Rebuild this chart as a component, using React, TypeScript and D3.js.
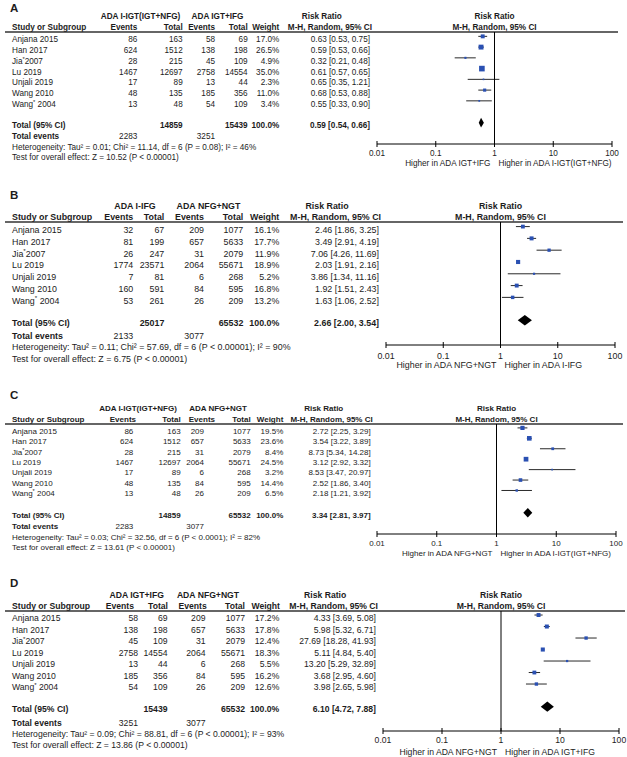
import React from "react";
import { scaleLog } from "d3";

const studyNames = ["Anjana 2015", "Han 2017", "Jia*2007", "Lu 2019", "Unjali 2019", "Wang 2010", "Wang* 2004"];
const tickValues = [0.01, 0.1, 1, 10, 100];
const tickLabels = ["0.01", "0.1", "1", "10", "100"];

// panel A
const groupsA = ["ADA I-IGT(IGT+NFG)", "ADA IGT+IFG"];
const eventsA1 = [86, 624, 28, 1467, 17, 48, 13];
const totalA1 = [163, 1512, 215, 12697, 89, 135, 48];
const eventsA2 = [58, 138, 45, 2758, 13, 185, 54];
const totalA2 = [69, 198, 109, 14554, 44, 356, 109];
const weightA = [17.0, 26.5, 4.9, 35.0, 2.3, 11.0, 3.4];
const rrA = [0.63, 0.59, 0.32, 0.61, 0.65, 0.68, 0.55];
const loA = [0.53, 0.53, 0.21, 0.57, 0.35, 0.53, 0.33];
const hiA = [0.75, 0.66, 0.48, 0.65, 1.21, 0.88, 0.9];
const pooledA = [0.59, 0.54, 0.66];
const sumsA = [14859, 15439, 2283, 3251];
const hetA = "Heterogeneity: Tau² = 0.01; Chi² = 11.14, df = 6 (P = 0.08); I² = 46%";
const testA = "Test for overall effect: Z = 10.52 (P < 0.00001)";
const favourA = ["Higher in ADA IGT+IFG", "Higher in ADA I-IGT(IGT+NFG)"];

// panel B
const groupsB = ["ADA I-IFG", "ADA NFG+NGT"];
const eventsB1 = [32, 81, 26, 1774, 7, 160, 53];
const totalB1 = [67, 199, 247, 23571, 81, 591, 261];
const eventsB2 = [209, 657, 31, 2064, 6, 84, 26];
const totalB2 = [1077, 5633, 2079, 55671, 268, 595, 209];
const weightB = [16.1, 17.7, 11.9, 18.9, 5.2, 16.8, 13.2];
const rrB = [2.46, 3.49, 7.06, 2.03, 3.86, 1.92, 1.63];
const loB = [1.86, 2.91, 4.26, 1.91, 1.34, 1.51, 1.06];
const hiB = [3.25, 4.19, 11.69, 2.16, 11.16, 2.43, 2.52];
const pooledB = [2.66, 2.0, 3.54];
const sumsB = [25017, 65532, 2133, 3077];
const hetB = "Heterogeneity: Tau² = 0.11; Chi² = 57.69, df = 6 (P < 0.00001); I² = 90%";
const testB = "Test for overall effect: Z = 6.75 (P < 0.00001)";
const favourB = ["Higher in ADA NFG+NGT", "Higher in ADA I-IFG"];

// panel C
const groupsC = ["ADA I-IGT(IGT+NFG)", "ADA NFG+NGT"];
const eventsC1 = [86, 624, 28, 1467, 17, 48, 13];
const totalC1 = [163, 1512, 215, 12697, 89, 135, 48];
const eventsC2 = [209, 657, 31, 2064, 6, 84, 26];
const totalC2 = [1077, 5633, 2079, 55671, 268, 595, 209];
const weightC = [19.5, 23.6, 8.4, 24.5, 3.2, 14.4, 6.5];
const rrC = [2.72, 3.54, 8.73, 3.12, 8.53, 2.52, 2.18];
const loC = [2.25, 3.22, 5.34, 2.92, 3.47, 1.86, 1.21];
const hiC = [3.29, 3.89, 14.28, 3.32, 20.97, 3.4, 3.92];
const pooledC = [3.34, 2.81, 3.97];
const sumsC = [14859, 65532, 2283, 3077];
const hetC = "Heterogeneity: Tau² = 0.03; Chi² = 32.56, df = 6 (P < 0.0001); I² = 82%";
const testC = "Test for overall effect: Z = 13.61 (P < 0.00001)";
const favourC = ["Higher in ADA NFG+NGT", "Higher in ADA I-IGT(IGT+NFG)"];

// panel D
const groupsD = ["ADA IGT+IFG", "ADA NFG+NGT"];
const eventsD1 = [58, 138, 45, 2758, 13, 185, 54];
const totalD1 = [69, 198, 109, 14554, 44, 356, 109];
const eventsD2 = [209, 657, 31, 2064, 6, 84, 26];
const totalD2 = [1077, 5633, 2079, 55671, 268, 595, 209];
const weightD = [17.2, 17.8, 12.4, 18.3, 5.5, 16.2, 12.6];
const rrD = [4.33, 5.98, 27.69, 5.11, 13.2, 3.68, 3.98];
const loD = [3.69, 5.32, 18.28, 4.84, 5.29, 2.95, 2.65];
const hiD = [5.08, 6.71, 41.93, 5.4, 32.89, 4.6, 5.98];
const pooledD = [6.1, 4.72, 7.88];
const sumsD = [15439, 65532, 3251, 3077];
const hetD = "Heterogeneity: Tau² = 0.09; Chi² = 88.81, df = 6 (P < 0.00001); I² = 93%";
const testD = "Test for overall effect: Z = 13.86 (P < 0.00001)";
const favourD = ["Higher in ADA NFG+NGT", "Higher in ADA IGT+IFG"];

const panels = [
  { letter: "A", groups: groupsA, e1: eventsA1, t1: totalA1, e2: eventsA2, t2: totalA2, w: weightA, rr: rrA, lo: loA, hi: hiA, pooled: pooledA, sums: sumsA, het: hetA, test: testA, favour: favourA },
  { letter: "B", groups: groupsB, e1: eventsB1, t1: totalB1, e2: eventsB2, t2: totalB2, w: weightB, rr: rrB, lo: loB, hi: hiB, pooled: pooledB, sums: sumsB, het: hetB, test: testB, favour: favourB },
  { letter: "C", groups: groupsC, e1: eventsC1, t1: totalC1, e2: eventsC2, t2: totalC2, w: weightC, rr: rrC, lo: loC, hi: hiC, pooled: pooledC, sums: sumsC, het: hetC, test: testC, favour: favourC },
  { letter: "D", groups: groupsD, e1: eventsD1, t1: totalD1, e2: eventsD2, t2: totalD2, w: weightD, rr: rrD, lo: loD, hi: hiD, pooled: pooledD, sums: sumsD, het: hetD, test: testD, favour: favourD },
];

// where each panel sits on the page (baselines, column right edges, axis span, font size)
const layouts = [
  { fs: 8.2, letterY: 12, head1: 19, head2: 30, row0: 42.3, step: 10.75, totalY: 128, eventsY: 139, hetY: 149.5, testY: 160, axisY: 144, tickY: 156, footY: 166, cols: [137.3, 182.7, 215, 247.7, 279.3], headCols: [137.3, 182.7, 215, 247.7, 279.3], rrX: 370, g1x: 140.5, g2x: 217.5, axis: [377, 612], lineEnd: 618 },
  { fs: 8.85, letterY: 199, head1: 208.7, head2: 220, row0: 233, step: 11.8, totalY: 326, eventsY: 339, hetY: 350, testY: 362, axisY: 345, tickY: 358.7, footY: 368, cols: [133.3, 164.3, 204, 243.3, 279.3], headCols: [133.3, 164.3, 204, 243.3, 279.3], rrX: 379, g1x: 135, g2x: 208.5, axis: [386, 615], lineEnd: 623 },
  { fs: 8.0, letterY: 399, head1: 411.3, head2: 422, row0: 433.7, step: 10.43, totalY: 518, eventsY: 528.7, hetY: 539.7, testY: 550.3, axisY: 534, tickY: 546.3, footY: 555.7, cols: [133.3, 180.7, 204, 250.7, 283.3], headCols: [136, 180.7, 215, 250.7, 283.3], rrX: 370.7, g1x: 138, g2x: 218, axis: [377, 616], lineEnd: 623 },
  { fs: 8.65, letterY: 587, head1: 598, head2: 609, row0: 621.3, step: 11.5, totalY: 712.3, eventsY: 725.7, hetY: 737, testY: 748.3, axisY: 731, tickY: 743, footY: 754.7, cols: [138, 167.5, 205.5, 245, 279.3], headCols: [134, 168, 206.7, 245, 280], rrX: 376, g1x: 136.7, g2x: 208, axis: [383, 619], lineEnd: 625 },
];

const INK = "#1c1c1c";
const BLUE = "#2a50b2";

const ciText = (v, lo, hi) => `${v.toFixed(2)} [${lo.toFixed(2)}, ${hi.toFixed(2)}]`;

// "Jia*2007" -> Jia with a raised asterisk
const StudyName = ({ name, x, y, fs }) => {
  const parts = name.split("*");
  if (parts.length === 1) return <text x={x} y={y}>{name}</text>;
  return (
    <text x={x} y={y} style={{ whiteSpace: "pre" }}>
      {parts[0]}
      <tspan dy={-fs * 0.38} fontSize={fs * 0.7}>*</tspan>
      <tspan dy={fs * 0.38}>{parts[1]}</tspan>
    </text>
  );
};

const Panel = ({ d, l }) => {
  const x = scaleLog().domain([0.01, 100]).range(l.axis);
  const rowY = (i) => l.row0 + i * l.step;
  const [c0, c1, c2, c3, c4] = l.cols;
  const [h0, h1, h2, h3, h4] = l.headCols;
  const lineY = l.head2 + 2;
  const x1 = x(1);
  const k = l.fs / 8;

  return (
    <g fill={INK} fontSize={l.fs}>
      <text x={10} y={l.letterY} fontSize={11.5} fontWeight="bold">{d.letter}</text>

      {/* header rows */}
      <g fontWeight="bold">
        <text x={l.g1x} y={l.head1} textAnchor="middle">{d.groups[0]}</text>
        <text x={l.g2x} y={l.head1} textAnchor="middle">{d.groups[1]}</text>
        <text x={l.rrX - 47 * k} y={l.head1} textAnchor="middle">Risk Ratio</text>
        <text x={x1} y={l.head1} textAnchor="middle">Risk Ratio</text>
        <text x={12} y={l.head2}>Study or Subgroup</text>
        <text x={h0} y={l.head2} textAnchor="end">Events</text>
        <text x={h1} y={l.head2} textAnchor="end">Total</text>
        <text x={h2} y={l.head2} textAnchor="end">Events</text>
        <text x={h3} y={l.head2} textAnchor="end">Total</text>
        <text x={h4} y={l.head2} textAnchor="end">Weight</text>
        <text x={l.rrX + 2} y={l.head2} textAnchor="end">M-H, Random, 95% CI</text>
        <text x={x1} y={l.head2} textAnchor="middle">M-H, Random, 95% CI</text>
      </g>
      <line x1={5} x2={l.lineEnd} y1={lineY} y2={lineY} stroke="#333" strokeWidth={1.3} />

      {/* study rows */}
      {studyNames.map((name, i) => {
        const y = rowY(i);
        const size = Math.max(1.6, 0.95 * Math.sqrt(d.w[i]));
        const my = y - 5.8 * k;
        return (
          <g key={name}>
            <StudyName name={name} x={12} y={y} fs={l.fs} />
            <text x={c0} y={y} textAnchor="end">{d.e1[i]}</text>
            <text x={c1} y={y} textAnchor="end">{d.t1[i]}</text>
            <text x={c2} y={y} textAnchor="end">{d.e2[i]}</text>
            <text x={c3} y={y} textAnchor="end">{d.t2[i]}</text>
            <text x={c4} y={y} textAnchor="end">{d.w[i].toFixed(1)}%</text>
            <text x={l.rrX} y={y} textAnchor="end">{ciText(d.rr[i], d.lo[i], d.hi[i])}</text>
            <line x1={x(d.lo[i])} x2={x(d.hi[i])} y1={my} y2={my} stroke="#2a2a2a" strokeWidth={1} />
            <rect x={x(d.rr[i]) - size / 2} y={my - size / 2} width={size} height={size} fill={BLUE} />
          </g>
        );
      })}

      {/* totals */}
      <g fontWeight="bold">
        <text x={12} y={l.totalY}>Total (95% CI)</text>
        <text x={c1} y={l.totalY} textAnchor="end">{d.sums[0]}</text>
        <text x={c3} y={l.totalY} textAnchor="end">{d.sums[1]}</text>
        <text x={c4} y={l.totalY} textAnchor="end">100.0%</text>
        <text x={l.rrX} y={l.totalY} textAnchor="end">{ciText(d.pooled[0], d.pooled[1], d.pooled[2])}</text>
        <text x={12} y={l.eventsY}>Total events</text>
      </g>
      <text x={c0} y={l.eventsY} textAnchor="end">{d.sums[2]}</text>
      <text x={c2} y={l.eventsY} textAnchor="end">{d.sums[3]}</text>
      <text x={12} y={l.hetY}>{d.het}</text>
      <text x={12} y={l.testY}>{d.test}</text>
      <path
        d={`M${x(d.pooled[1])},${l.totalY - 5.2 * k} L${x(d.pooled[0])},${l.totalY - 10 * k} L${x(d.pooled[2])},${l.totalY - 5.2 * k} L${x(d.pooled[0])},${l.totalY - 0.4 * k} Z`}
        fill="#000"
      />

      {/* axis */}
      <line x1={x1} x2={x1} y1={lineY} y2={l.axisY} stroke="#000" strokeWidth={1} />
      <line x1={l.axis[0]} x2={l.axis[1]} y1={l.axisY} y2={l.axisY} stroke="#000" strokeWidth={1} />
      {tickValues.map((t, i) => (
        <g key={t}>
          <line x1={x(t)} x2={x(t)} y1={l.axisY - 3} y2={l.axisY + 3} stroke="#000" strokeWidth={1} />
          <text x={x(t)} y={l.tickY} textAnchor="middle">{tickLabels[i]}</text>
        </g>
      ))}
      <text x={x1 - 4} y={l.footY} textAnchor="end">{d.favour[0]}</text>
      <text x={x1 + 4} y={l.footY}>{d.favour[1]}</text>
    </g>
  );
};

export default function App() {
  return (
    <svg
      width={627}
      height={757}
      style={{ position: "absolute", left: 0, top: 0, background: "#fff" }}
      fontFamily="'Liberation Sans', Arial, sans-serif"
      fontSize={8}
    >
      <rect width={627} height={757} fill="#fff" />
      {panels.map((d, i) => (
        <Panel key={d.letter} d={d} l={layouts[i]} />
      ))}
    </svg>
  );
}
